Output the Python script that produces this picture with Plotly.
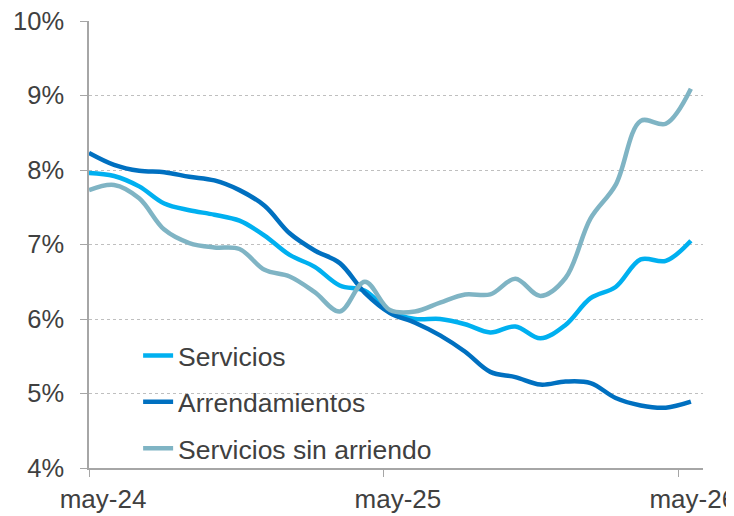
import pandas as pd
import plotly.graph_objects as go

# monthly readings, may-24 .. may-26 (annual change, %)
dates = pd.date_range("2024-05-01", "2026-05-16", periods=25)

servicios = [7.96, 7.92, 7.78, 7.55, 7.46, 7.40, 7.32, 7.12, 6.86, 6.70, 6.45, 6.38, 6.10,
             6.00, 6.00, 5.93, 5.82, 5.90, 5.74, 5.92, 6.28, 6.43, 6.80, 6.78, 7.05]
arrendamientos = [8.23, 8.07, 7.99, 7.97, 7.91, 7.86, 7.73, 7.52, 7.15, 6.92, 6.75, 6.35, 6.08,
                  5.95, 5.78, 5.56, 5.29, 5.22, 5.12, 5.16, 5.14, 4.94, 4.84, 4.81, 4.89]
sin_arriendo = [7.73, 7.80, 7.62, 7.20, 7.02, 6.96, 6.94, 6.66, 6.57, 6.36, 6.10, 6.50, 6.12,
                6.10, 6.22, 6.33, 6.33, 6.54, 6.31, 6.55, 7.35, 7.80, 8.66, 8.62, 9.09]

series_names = ["Servicios", "Arrendamientos", "Servicios sin arriendo"]
colors = ["#00B0F0", "#0070C0", "#7FB4C4"]

y_ticks = [4, 5, 6, 7, 8, 9, 10]
y_labels = ["4%", "5%", "6%", "7%", "8%", "9%", "10%"]
x_ticks = ["2024-05-01", "2025-05-01", "2026-05-01"]
x_labels = ["may-24", "may-25", "may-26"]

txt = "#404040"
fnt = "Liberation Sans, Arial, sans-serif"

fig = go.Figure()
for i, vals in enumerate([servicios, arrendamientos, sin_arriendo]):
    fig.add_trace(go.Scatter(
        x=dates, y=vals, mode="lines", name=series_names[i],
        legendgroup=series_names[i],
        line=dict(color=colors[i], width=4.5, shape="spline", smoothing=1.0)
    ))

# the page body adds an 8px offset, so the figure is 8px smaller each way
fig.update_layout(
    width=726, height=508,
    margin=dict(l=81, r=31, t=13, b=48),
    paper_bgcolor="white", plot_bgcolor="white",
    font=dict(family=fnt, size=26, color=txt),
    showlegend=True,
    legend=dict(x=0.08, y=0.305, xanchor="left", yanchor="top",
                bgcolor="rgba(0,0,0,0)", tracegroupgap=9,
                font=dict(size=26.5, color=txt), itemwidth=30),
)
fig.update_xaxes(
    type="date", range=["2024-05-01", "2026-05-31"],
    tickvals=x_ticks, ticktext=x_labels,
    showgrid=False, showline=True, linecolor="#A6A6A6", linewidth=1.5,
    ticks="outside", ticklen=7, tickcolor="#A6A6A6",
    ticklabelshift=14, ticklabeloverflow="allow", automargin=False,
    tickfont=dict(size=26, color=txt),
)
fig.update_yaxes(
    range=[4, 10], tickvals=y_ticks, ticktext=y_labels,
    showgrid=True, gridcolor="#BFBFBF", griddash="dot", gridwidth=1,
    showline=True, linecolor="#A6A6A6", linewidth=1.5,
    ticks="outside", ticklen=7, tickcolor="#A6A6A6",
    ticklabelstandoff=11, ticklabeloverflow="allow", automargin=False,
    tickfont=dict(size=25.5, color=txt),
    zeroline=False,
)

fig.write_html("out.html")
